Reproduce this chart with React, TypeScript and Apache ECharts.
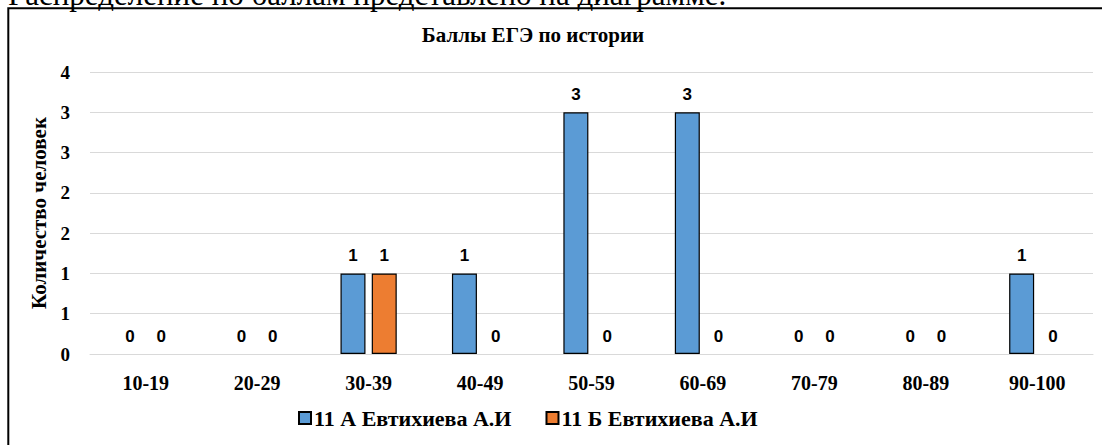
import React, { useEffect, useRef } from "react";
import * as echarts from "echarts";

const categories = ["10-19", "20-29", "30-39", "40-49", "50-59", "60-69", "70-79", "80-89", "90-100"];
const seriesA = [0, 0, 1, 1, 3, 3, 0, 0, 1];
const seriesB = [0, 0, 1, 0, 0, 0, 0, 0, 0];
const seriesNames = ["11 А Евтихиева А.И", "11 Б Евтихиева А.И"];
const titleText = "Баллы ЕГЭ по истории";
const yAxisName = "Количество человек";
const headerText = "Распределение по баллам представлено на диаграмме.";

const SERIF = "Liberation Serif";
const SANS = "Liberation Sans";

const toData = (arr: number[]) =>
  arr.map((v) => (v === 0 ? { value: v, itemStyle: { borderWidth: 0 } } : v));

export default function App() {
  const ref = useRef<HTMLDivElement>(null);
  useEffect(() => {
    if (!ref.current) return;
    const chart = echarts.init(ref.current, null, { renderer: "svg" });
    const labelStyle = {
      show: true,
      position: "top",
      distance: 9,
      color: "#000",
      fontFamily: SANS,
      fontWeight: "bold",
      fontSize: 17,
    };
    chart.setOption({
      animation: false,
      backgroundColor: "#fff",
      graphic: [
        {
          type: "text",
          x: 8,
          y: -6,
          style: {
            text: headerText,
            fontFamily: SERIF,
            fontSize: 31,
            fill: "#000",
            verticalAlign: "middle",
          },
        },
        {
          type: "rect",
          shape: { x: 8.3, y: 8.3, width: 1200, height: 600 },
          style: { fill: "none", stroke: "#000", lineWidth: 2 },
        },
        {
          type: "text",
          x: 533,
          y: 35,
          style: {
            text: titleText,
            fontFamily: SERIF,
            fontWeight: "bold",
            fontSize: 21,
            fill: "#000",
            align: "center",
            verticalAlign: "middle",
          },
        },
      ],
      grid: { left: 90, right: 9, top: 72, bottom: 91 },
      legend: {
        left: 293,
        top: 402,
        itemWidth: 12,
        itemHeight: 12,
        itemGap: 34,
        icon: "rect",
        textStyle: { fontFamily: SERIF, fontWeight: "bold", fontSize: 22, color: "#000", padding: [0, 0, 0, -2] },
        data: seriesNames,
      },
      xAxis: {
        type: "category",
        data: categories,
        axisLine: { show: true, lineStyle: { color: "#d9d9d9", width: 1 } },
        axisTick: { show: false },
        axisLabel: { color: "#000", fontFamily: SERIF, fontWeight: "bold", fontSize: 20, margin: 19 },
      },
      yAxis: {
        type: "value",
        min: 0,
        max: 3.5,
        interval: 0.5,
        name: yAxisName,
        nameLocation: "middle",
        nameRotate: 90,
        nameGap: 38,
        nameTextStyle: { color: "#000", fontFamily: SERIF, fontWeight: "bold", fontSize: 21 },
        axisLine: { show: false },
        axisTick: { show: false },
        splitLine: { lineStyle: { color: "#d9d9d9", width: 1 } },
        axisLabel: {
          color: "#000",
          fontFamily: SERIF,
          fontWeight: "bold",
          fontSize: 19,
          margin: 20,
          formatter: (v: number) => String(Math.round(v)),
        },
      },
      series: [
        {
          name: seriesNames[0],
          type: "bar",
          data: toData(seriesA),
          barWidth: 25,
          barGap: "25%",
          itemStyle: { color: "#5B9BD5", borderColor: "#000", borderWidth: 1.2 },
          label: labelStyle,
        },
        {
          name: seriesNames[1],
          type: "bar",
          data: toData(seriesB),
          barWidth: 25,
          itemStyle: { color: "#ED7D31", borderColor: "#000", borderWidth: 1.2 },
          label: labelStyle,
        },
      ],
    });
    return () => chart.dispose();
  }, []);
  return (
    <div
      ref={ref}
      style={{ position: "fixed", left: 0, top: 0, width: 1102, height: 445 }}
    />
  );
}
